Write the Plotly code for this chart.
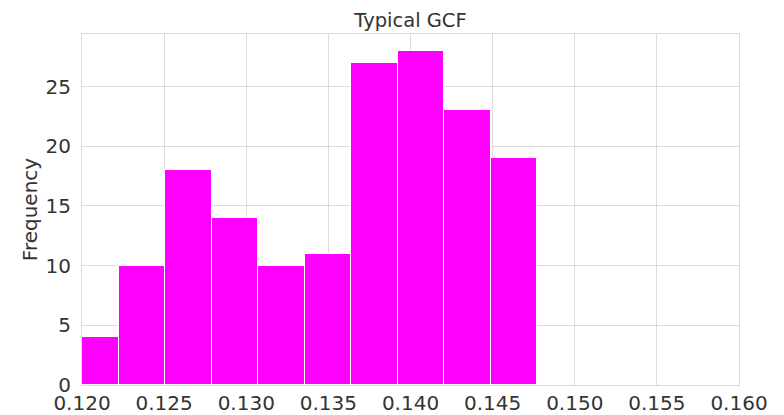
import plotly.graph_objects as go

# Histogram data
bin_start = 0.119425
bin_width = 0.002828
counts = [4, 10, 18, 14, 10, 11, 27, 28, 23, 19]

bin_edges = [bin_start + i * bin_width for i in range(len(counts) + 1)]
centers = [(bin_edges[i] + bin_edges[i + 1]) / 2 for i in range(len(counts))]
widths = [bin_edges[i + 1] - bin_edges[i] for i in range(len(counts))]

x_ticks = [0.120, 0.125, 0.130, 0.135, 0.140, 0.145, 0.150, 0.155, 0.160]
y_ticks = [0, 5, 10, 15, 20, 25]

fig = go.Figure()
fig.add_trace(go.Bar(
    x=centers, y=counts, width=widths,
    marker=dict(color="#FF00FF", line=dict(color="#ffffff", width=1)),
    hoverinfo="x+y",
))

font = "DejaVu Sans, sans-serif"
grid = "#dcdcdc"
txt = "#333333"
fig.update_layout(
    width=784, height=415,
    margin=dict(l=82, r=45, t=34, b=30),
    paper_bgcolor="white", plot_bgcolor="white",
    showlegend=False,
    bargap=0,
    title=dict(text="Typical GCF", x=(82 + 739) / 2 / 784, xanchor="center",
               y=1 - 20 / 415, yanchor="middle",
               font=dict(family=font, size=19.5, color=txt)),
    font=dict(family=font, color=txt),
)
fig.update_xaxes(
    range=[0.120, 0.160], tickvals=x_ticks, tickformat=".3f",
    showgrid=True, gridcolor=grid, gridwidth=1,
    showline=True, linecolor=grid, linewidth=1, mirror=True,
    zeroline=False, ticks="", ticklabelstandoff=0, automargin=False,
    tickfont=dict(size=20, family=font, color=txt),
)
fig.update_yaxes(
    range=[0, 29.4], tickvals=y_ticks,
    showgrid=True, gridcolor=grid, gridwidth=1,
    showline=True, linecolor=grid, linewidth=1, mirror=True,
    zeroline=False, ticks="", ticklabelstandoff=6, automargin=False,
    tickfont=dict(size=20, family=font, color=txt),
    title=dict(text="Frequency", font=dict(size=20, family=font, color=txt), standoff=2),
)

fig.write_html("out.html")
